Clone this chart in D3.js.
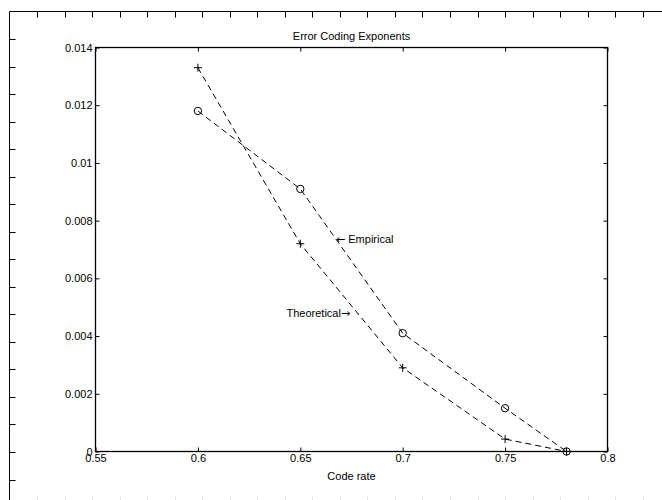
<!DOCTYPE html>
<html>
<head>
<meta charset="utf-8">
<script src="https://cdn.jsdelivr.net/npm/d3@7"></script>
<style>
  body { margin: 0; background: #fff; }
  svg { display: block; font-family: "Liberation Sans", Arial, Helvetica, sans-serif; }
</style>
</head>
<body>
<svg id="chart" width="662" height="500"></svg>
<script>
// data
var codeRates = [0.6, 0.65, 0.7, 0.75, 0.78];
var theoretical = [0.0133, 0.0072, 0.0029, 0.00043, 0];
var empirical = [0.0118, 0.0091, 0.0041, 0.0015, 0];
var xTickValues = [0.55, 0.6, 0.65, 0.7, 0.75, 0.8];
var yTickValues = [0, 0.002, 0.004, 0.006, 0.008, 0.01, 0.012, 0.014];

var svg = d3.select("#chart");

// outer frame of the figure (top and left edges with ticks)
var frameLeft = 9.5, frameTop = 11.5, frameStep = 27.53;
var frame = svg.append("g").attr("stroke", "#000").attr("stroke-width", 1);
frame.append("line").attr("x1", frameLeft).attr("x2", 662).attr("y1", frameTop).attr("y2", frameTop);
frame.append("line").attr("x1", frameLeft).attr("x2", frameLeft).attr("y1", frameTop).attr("y2", 500);
d3.range(1, 24).forEach(function(k) {
    var xx = Math.round(frameLeft + k * frameStep) + 0.5;
    frame.append("line").attr("x1", xx).attr("x2", xx).attr("y1", frameTop).attr("y2", frameTop + 6);
    // faint ticks at the bottom edge
    svg.append("line").attr("x1", xx).attr("x2", xx).attr("y1", 497).attr("y2", 500)
        .attr("stroke", "#ddd").attr("stroke-width", 1);
});
d3.range(1, 18).forEach(function(k) {
    var yy = Math.round(frameTop + k * frameStep) + 0.5;
    frame.append("line").attr("x1", frameLeft).attr("x2", frameLeft + 6).attr("y1", yy).attr("y2", yy);
});

// plot area
var plotLeft = 95.5, plotRight = 607.5, plotTop = 47.5, plotBottom = 451.5;
var x = d3.scaleLinear().domain([0.55, 0.8]).range([plotLeft, plotRight]);
var y = d3.scaleLinear().domain([0, 0.014]).range([plotBottom, plotTop]);
var fmt = function(d) { return String(+d.toFixed(4)); };

function styleAxis(g) {
    g.select(".domain").remove();
    g.selectAll(".tick line").attr("stroke", "#000");
    g.selectAll(".tick text").attr("fill", "#000").attr("font-size", 11)
        .attr("font-family", "Liberation Sans, Arial, sans-serif");
}

svg.append("g").attr("transform", "translate(0," + plotBottom + ")")
    .call(d3.axisBottom(x).tickValues(xTickValues).tickFormat(fmt).tickSize(-4).tickPadding(3))
    .call(styleAxis);
svg.append("g").attr("transform", "translate(0," + plotTop + ")")
    .call(d3.axisTop(x).tickValues(xTickValues).tickFormat("").tickSize(-4))
    .call(styleAxis);
svg.append("g").attr("transform", "translate(" + plotLeft + ",0)")
    .call(d3.axisLeft(y).tickValues(yTickValues).tickFormat(fmt).tickSize(-4).tickPadding(3))
    .call(styleAxis);
svg.append("g").attr("transform", "translate(" + plotRight + ",0)")
    .call(d3.axisRight(y).tickValues(yTickValues).tickFormat("").tickSize(-4))
    .call(styleAxis);

svg.append("rect").attr("x", plotLeft).attr("y", plotTop)
    .attr("width", plotRight - plotLeft).attr("height", plotBottom - plotTop)
    .attr("fill", "none").attr("stroke", "#000").attr("stroke-width", 1.3);

// series
var line = d3.line().x(function(d) { return x(d[0]); }).y(function(d) { return y(d[1]); });
var theoPts = codeRates.map(function(r, i) { return [r, theoretical[i]]; });
var empPts = codeRates.map(function(r, i) { return [r, empirical[i]]; });

[theoPts, empPts].forEach(function(pts) {
    svg.append("path").datum(pts).attr("d", line)
        .attr("fill", "none").attr("stroke", "#000").attr("stroke-width", 1)
        .attr("stroke-dasharray", "6,4");
});

svg.append("g").selectAll("path").data(theoPts).enter().append("path")
    .attr("d", function(d) {
        var cx = x(d[0]), cy = y(d[1]);
        return "M" + (cx - 4) + "," + cy + "H" + (cx + 4) + "M" + cx + "," + (cy - 4) + "V" + (cy + 4);
    })
    .attr("stroke", "#000").attr("stroke-width", 1);

svg.append("g").selectAll("circle").data(empPts).enter().append("circle")
    .attr("cx", function(d) { return x(d[0]); })
    .attr("cy", function(d) { return y(d[1]); })
    .attr("r", 3.7)
    .attr("fill", "none").attr("stroke", "#000").attr("stroke-width", 1);

// labels
svg.append("text").attr("x", 351.5).attr("y", 40).attr("text-anchor", "middle")
    .attr("font-size", 11).text("Error Coding Exponents");
svg.append("text").attr("x", 351.5).attr("y", 480).attr("text-anchor", "middle")
    .attr("font-size", 11).text("Code rate");

var emp = svg.append("text").attr("x", 336).attr("y", 243).attr("font-size", 11);
emp.append("tspan").attr("font-family", "DejaVu Sans").text("\u2190");
emp.append("tspan").text(" Empirical");
var theo = svg.append("text").attr("x", 286.5).attr("y", 317).attr("font-size", 11);
theo.append("tspan").text("Theoretical");
theo.append("tspan").attr("font-family", "DejaVu Sans").text("\u2192");
</script>
</body>
</html>
